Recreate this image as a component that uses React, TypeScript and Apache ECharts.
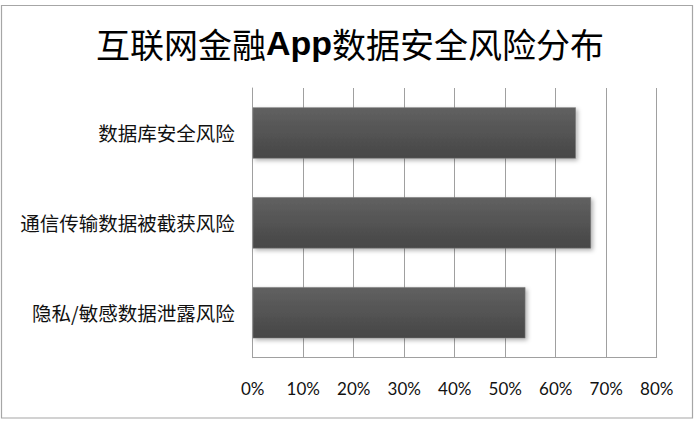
import React, { useEffect, useRef } from "react";
import * as echarts from "echarts";

const categories = ["数据库安全风险", "通信传输数据被截获风险", "隐私/敏感数据泄露风险"];
const values = [64, 67, 54];
const xTicks = [0, 10, 20, 30, 40, 50, 60, 70, 80];
const titleText = "互联网金融{b|App}数据安全风险分布";

export default function App() {
  const ref = useRef<HTMLDivElement>(null);
  useEffect(() => {
    if (!ref.current) return;
    const chart = echarts.init(ref.current, null, { renderer: "svg" });
    chart.setOption({
      animation: false,
      backgroundColor: "#ffffff",
      title: {
        text: titleText,
        left: "center",
        top: 21,
        textStyle: {
          fontFamily: "Noto Sans CJK SC",
          fontSize: 34,
          fontWeight: "normal",
          color: "#000000",
          rich: {
            b: {
              fontFamily: "Liberation Sans",
              fontWeight: "bold",
              fontSize: 34,
              color: "#000000",
            },
          },
        },
      },
      graphic: [
        {
          type: "rect",
          shape: { x: 1.5, y: 5.5, width: 691, height: 412.5 },
          style: { fill: "none", stroke: "#a6a6a6", lineWidth: 1.2 },
          silent: true,
        },
      ],
      grid: { left: 252.7, right: 43.3, top: 88, bottom: 66.3, containLabel: false },
      xAxis: {
        type: "value",
        min: xTicks[0],
        max: xTicks[xTicks.length - 1],
        interval: 10,
        axisLine: { show: true, lineStyle: { color: "#a0a0a0", width: 1 } },
        axisTick: { show: false },
        splitLine: { show: true, lineStyle: { color: "#a0a0a0", width: 1 } },
        axisLabel: {
          formatter: "{value}%",
          margin: 22,
          fontFamily: "Lato",
          fontSize: 17,
          color: "#111111",
        },
      },
      yAxis: {
        type: "category",
        inverse: true,
        data: categories,
        axisLine: { show: true, lineStyle: { color: "#a0a0a0", width: 1 } },
        axisTick: { show: false },
        axisLabel: {
          margin: 18,
          fontFamily: "Noto Sans CJK SC",
          fontSize: 19.5,
          color: "#111111",
        },
      },
      series: [
        {
          type: "bar",
          data: values,
          barCategoryGap: "43%",
          itemStyle: {
            color: new echarts.graphic.LinearGradient(0, 0, 0, 1, [
              { offset: 0, color: "#616161" },
              { offset: 1, color: "#464646" },
            ]),
            borderColor: "#7a7a7a",
            borderWidth: 0.6,
            shadowBlur: 4,
            shadowOffsetX: 2,
            shadowOffsetY: 2,
            shadowColor: "rgba(0,0,0,0.3)",
          },
        },
      ],
    });
    return () => chart.dispose();
  }, []);
  return (
    <div
      ref={ref}
      style={{ position: "absolute", left: 0, top: 0, width: 700, height: 424 }}
    />
  );
}
